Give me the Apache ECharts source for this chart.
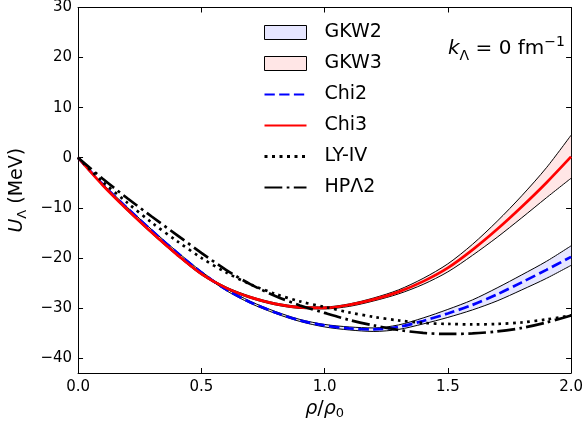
<!DOCTYPE html>
<html><head><meta charset="utf-8">
<script src="https://cdn.jsdelivr.net/npm/echarts@6/dist/echarts.min.js"></script>
<style>html,body{margin:0;padding:0;background:#fff}#c{width:586px;height:428px}</style>
</head><body><div id="c"></div>
<script>
// density grid rho/rho0
const rho = [0,0.1,0.2,0.3,0.4,0.5,0.6,0.7,0.8,0.9,1.0,1.1,1.2,1.3,1.4,1.5,1.6,1.7,1.8,1.9,2.0];
// Chi2 (blue dashed) and Chi3 (red solid)
const chi2 = [0,-5.3,-10.1,-14.6,-18.9,-22.9,-26.3,-28.9,-30.9,-32.5,-33.5,-34.1,-34.3,-33.8,-32.6,-31.1,-29.4,-27.3,-24.9,-22.4,-19.8];
const chi3 = [0,-5.5,-10.4,-15.0,-19.3,-23.2,-26.0,-27.9,-29.2,-29.9,-30.0,-29.4,-28.3,-26.8,-24.7,-22.0,-18.4,-14.3,-9.8,-5.0,0.2];
// GKW2 band
const gkw2Upper = [0,-5.2,-9.9,-14.4,-18.7,-22.7,-26.1,-28.7,-30.7,-32.3,-33.3,-33.8,-34.0,-33.4,-32.0,-30.3,-28.4,-26.0,-23.4,-20.7,-17.6];
const gkw2Lower = [0,-5.4,-10.3,-14.8,-19.1,-23.1,-26.5,-29.1,-31.1,-32.7,-33.8,-34.4,-34.7,-34.3,-33.2,-31.9,-30.4,-28.6,-26.4,-24.1,-21.5];
// GKW3 band
const gkw3Upper = [0,-5.4,-10.2,-14.8,-19.1,-23.0,-25.8,-27.7,-29.0,-29.7,-29.8,-29.2,-28.0,-26.4,-24.1,-21.2,-17.3,-12.7,-7.6,-2.0,4.5];
const gkw3Lower = [0,-5.6,-10.6,-15.2,-19.5,-23.4,-26.2,-28.1,-29.4,-30.1,-30.2,-29.7,-28.6,-27.2,-25.3,-22.8,-19.5,-15.9,-12.0,-8.0,-4.1];
// LY-IV (dotted) and HPΛ2 (dash-dot)
const lyiv = [0,-4.8,-9.0,-13.0,-16.6,-20.0,-22.9,-25.3,-27.2,-28.7,-29.8,-30.9,-31.8,-32.5,-33.0,-33.2,-33.3,-33.2,-32.9,-32.3,-31.5];
const hpl2 = [0,-4.2,-8.1,-11.8,-15.4,-19.0,-22.4,-25.3,-27.6,-29.5,-31.0,-32.4,-33.5,-34.4,-35.0,-35.2,-35.1,-34.7,-34.0,-32.9,-31.5];
// ticks
const xTicks = [0,0.5,1.0,1.5,2.0];
const yTicks = [-40,-30,-20,-10,0,10,20,30];

const FONT = 'DejaVu Sans';
const pts = ys => rho.map((x,i)=>[x, ys[i]]);
const minus = v => (v < 0 ? '\u2212' + Math.abs(v) : String(v));
const SM = 0.3;
const LW = 2.7;

function bandSeries(name, lower, upper, fill){
  return [
    {type:'custom', name: name, data:[[0,0]], encode:{x:0, y:1}, z:1, silent:true, clip:true,
     itemStyle:{color: fill, borderColor:'#000', borderWidth:1},
     renderItem: (params, api) => {
       const top = rho.map((x,i)=>api.coord([x, upper[i]]));
       const bot = rho.map((x,i)=>api.coord([x, lower[i]])).reverse();
       return {type:'polygon', shape:{points: top.concat(bot)}, style:{fill: fill, stroke:null}};
     }},
    {type:'line', name: name + ' upper', data: pts(upper), smooth: SM, symbol:'none', silent:true, z:2,
     lineStyle:{color:'#000', width:1}},
    {type:'line', name: name + ' lower', data: pts(lower), smooth: SM, symbol:'none', silent:true, z:2,
     lineStyle:{color:'#000', width:1}}
  ];
}

const chart = echarts.init(document.getElementById('c'), null, {renderer:'canvas'});
const axisCommon = {
  axisLine:{show:true, onZero:false, lineStyle:{color:'#000', width:1}},
  splitLine:{show:false}
};
const hideSym = {color:'rgba(0,0,0,0)', borderWidth:0, opacity:0};
chart.setOption({
  animation:false,
  backgroundColor:'#fff',
  grid:{left:74, top:5, width:499, height:368, containLabel:false},
  xAxis:[
    Object.assign({type:'value', min:0, max:2, interval:0.5, position:'bottom',
      axisTick:{show:true, inside:true, length:5, lineStyle:{color:'#000'}},
      axisLabel:{show:true, margin:7, color:'#000', fontFamily:FONT, fontSize:15,
        formatter: v => v.toFixed(1)},
      name:'{i|ρ}/{i|ρ}{s|0}', nameLocation:'middle', nameGap:22,
      nameTextStyle:{fontFamily:FONT, fontSize:19, color:'#000',
        rich:{i:{fontFamily:FONT, fontStyle:'italic', fontSize:19, lineHeight:22, verticalAlign:'middle'},
              s:{fontFamily:FONT, fontSize:13, lineHeight:13, verticalAlign:'bottom'}}}
    }, axisCommon),
    Object.assign({type:'value', min:0, max:2, interval:0.5, position:'top',
      axisTick:{show:true, inside:true, length:5, lineStyle:{color:'#000'}},
      axisLabel:{show:false}}, axisCommon)
  ],
  yAxis:[
    Object.assign({type:'value', min:-43, max:30, position:'left',
      axisTick:{show:true, inside:true, length:5, customValues: yTicks, lineStyle:{color:'#000'}},
      axisLabel:{show:true, margin:6, color:'#000', fontFamily:FONT, fontSize:15,
        customValues: yTicks, formatter: minus},
      name:'{i|U}{s|Λ} (MeV)', nameLocation:'middle', nameGap:43,
      nameTextStyle:{fontFamily:FONT, fontSize:19, color:'#000',
        rich:{i:{fontFamily:FONT, fontStyle:'italic', fontSize:19, lineHeight:24, verticalAlign:'middle'},
              s:{fontFamily:FONT, fontSize:13, lineHeight:13, verticalAlign:'bottom'}}}
    }, axisCommon),
    Object.assign({type:'value', min:-43, max:30, position:'right',
      axisTick:{show:true, inside:true, length:5, customValues: yTicks, lineStyle:{color:'#000'}},
      axisLabel:{show:false}}, axisCommon)
  ],
  legend:{
    orient:'vertical', left:263, top:23, padding:0, itemWidth:42, itemHeight:14, itemGap:12,
    selectedMode:false,
    textStyle:{fontFamily:FONT, fontSize:19, lineHeight:19, color:'#000', padding:[0,0,0,13]},
    data:[
      {name:'GKW2', icon:'rect', itemStyle:{color:'#e6e6ff', borderColor:'#000', borderWidth:1}},
      {name:'GKW3', icon:'rect', itemStyle:{color:'#ffe6e6', borderColor:'#000', borderWidth:1}},
      {name:'Chi2', itemStyle:hideSym},
      {name:'Chi3', itemStyle:hideSym},
      {name:'LY-IV', itemStyle:hideSym, lineStyle:{width:3, type:[3,4.5]}},
      {name:'HPΛ2', itemStyle:hideSym}
    ]
  },
  graphic:[{
    type:'text', left:448, top:35, z:10,
    style:{
      text:'{i|k}{s|Λ} = 0 fm{p|−1}',
      fontFamily:FONT, fontSize:20, fill:'#000',
      rich:{
        i:{fontFamily:FONT, fontStyle:'italic', fontSize:20, lineHeight:28, verticalAlign:'middle'},
        s:{fontFamily:FONT, fontSize:14, lineHeight:14, verticalAlign:'bottom'},
        p:{fontFamily:FONT, fontSize:14, lineHeight:14, verticalAlign:'top'}
      }
    }
  }],
  series: [].concat(
    bandSeries('GKW2', gkw2Lower, gkw2Upper, '#e6e6ff'),
    bandSeries('GKW3', gkw3Lower, gkw3Upper, '#ffe6e6'),
    [
      {type:'line', name:'Chi2', data: pts(chi2), smooth:SM, symbol:'none', z:3,
        itemStyle:{color:'#0000ff'},
        lineStyle:{color:'#0000ff', width:LW, type:[10.3,4.4]}},
      {type:'line', name:'Chi3', data: pts(chi3), smooth:SM, symbol:'none', z:3,
        itemStyle:{color:'#ff0000'},
        lineStyle:{color:'#ff0000', width:LW}},
      {type:'line', name:'LY-IV', data: pts(lyiv), smooth:SM, symbol:'none', z:4,
        itemStyle:{color:'#000'},
        lineStyle:{color:'#000', width:LW, type:[2.7,4.5]}},
      {type:'line', name:'HPΛ2', data: pts(hpl2), smooth:SM, symbol:'none', z:4,
        itemStyle:{color:'#000'},
        lineStyle:{color:'#000', width:LW, type:[17.8,4.4,2.7,4.4]}}
    ]
  )
});
</script></body></html>
